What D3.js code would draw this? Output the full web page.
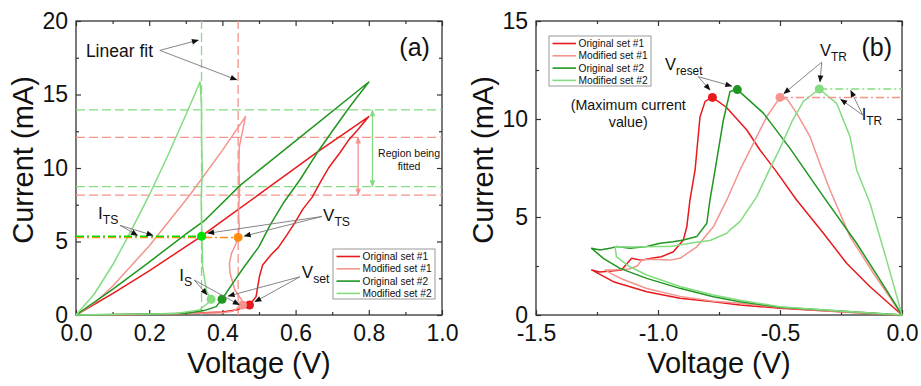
<!DOCTYPE html>
<html>
<head>
<meta charset="utf-8">
<script src="https://cdn.jsdelivr.net/npm/d3@7.9.0/dist/d3.min.js"></script>
<style>
  body { margin: 0; background: #fff; }
  svg { display: block; font-family: "Liberation Sans", Arial, sans-serif; }
</style>
</head>
<body>
<div id="chart"></div>
<script>
// ---- data, panel (a): [voltage V, current mA], forward sweep then return ----
const seriesNames = ['Original set #1', 'Modified set #1', 'Original set #2', 'Modified set #2'];

const aOrig1 = [[0,0],[0.1,0.02],[0.2,0.05],[0.3,0.1],[0.4,0.2],[0.44,0.35],[0.474,0.68],[0.492,1.25],
  [0.501,2.6],[0.51,3.4],[0.533,4.1],[0.553,4.6],[0.575,5.4],[0.596,6.2],[0.62,7.2],[0.645,8.0],[0.667,9.0],
  [0.69,10.0],[0.72,11.0],[0.745,11.9],[0.77,12.6],[0.8,13.5],
  [0.66,11.1],[0.5,8.2],[0.4,6.4],[0.339,5.3],[0.2,3.0],[0.1,1.45],[0,0]];
const aMod1 = [[0,0],[0.1,0.02],[0.2,0.05],[0.3,0.1],[0.4,0.16],[0.428,0.25],[0.455,0.68],[0.453,1.02],
  [0.434,1.7],[0.421,2.84],[0.419,3.5],[0.425,4.2],[0.436,4.8],[0.443,5.3],[0.446,6.0],[0.444,7.0],[0.447,8.5],
  [0.445,10.0],[0.446,11.4],[0.463,13.5],
  [0.4,11.2],[0.311,8.16],[0.2,4.7],[0.1,1.96],[0.05,0.8],[0,0]];
const aOrig2 = [[0,0],[0.1,0.03],[0.2,0.06],[0.3,0.12],[0.35,0.3],[0.383,0.57],[0.399,1.07],[0.428,2.15],
  [0.46,3.3],[0.5,4.65],[0.53,6.1],[0.566,7.6],[0.612,9.2],[0.658,11.0],[0.703,12.6],[0.749,14.2],[0.8,15.85],
  [0.6,11.85],[0.45,8.85],[0.35,6.4],[0.3,5.5],[0.2,3.6],[0.1,1.75],[0,0]];
const aMod2 = [[0,0],[0.1,0.03],[0.2,0.06],[0.273,0.1],[0.337,0.34],[0.36,0.8],[0.369,1.07],[0.357,1.6],
  [0.351,2.5],[0.346,3.3],[0.344,5.3],[0.342,7.8],[0.345,10.0],[0.343,12.0],[0.343,14.2],[0.339,15.87],
  [0.3,13.6],[0.25,10.8],[0.2,8.15],[0.15,5.7],[0.1,3.4],[0.05,1.43],[0,0]];

// fitted region limits (mA) and linear-fit voltages (V)
const fitRegion1 = [8.16, 12.09];
const fitRegion2 = [8.73, 13.95];
const fitVoltage1 = 0.443;
const fitVoltage2 = 0.343;
const itsLevel = [5.28, 5.36];
// marked points, panel (a)
const aSetPoints = [[0.474,0.68],[0.455,0.68],[0.399,1.07],[0.369,1.07]];
const aTsPoints = [[0.443,5.28],[0.343,5.36]];

// ---- data, panel (b): lower branch out to the turning point, upper branch back ----
const bOrig1 = [[0,0],[-0.254,0.17],[-0.5,0.35],[-0.664,0.51],[-0.773,0.68],[-0.91,0.85],[-1.046,1.19],
  [-1.183,1.7],[-1.272,2.3],[-1.24,2.2],[-1.19,2.25],[-1.15,2.3],[-1.108,2.89],[-1.07,2.8],[-1.027,2.89],
  [-0.986,2.97],[-0.937,3.23],[-0.896,3.83],[-0.882,4.5],[-0.869,5.87],[-0.848,7.4],[-0.828,10.1],
  [-0.807,10.9],[-0.777,11.1],[-0.72,10.6],[-0.636,9.44],[-0.582,8.42],[-0.514,7.3],[-0.432,5.87],
  [-0.322,4.17],[-0.227,2.64],[-0.131,1.44],[0,0]];
const bMod1 = [[0,0],[-0.254,0.17],[-0.5,0.38],[-0.664,0.6],[-0.773,0.7],[-0.91,0.95],[-1.046,1.35],
  [-1.15,1.85],[-1.19,2.1],[-1.217,2.3],[-1.18,2.3],[-1.12,2.35],[-1.085,2.5],[-1.067,2.8],[-1.027,2.84],
  [-0.951,2.8],[-0.91,2.89],[-0.841,3.48],[-0.773,4.5],[-0.718,5.87],[-0.664,7.4],[-0.609,8.76],
  [-0.555,10.1],[-0.5,11.1],[-0.47,11.0],[-0.432,10.3],[-0.377,9.1],[-0.336,7.7],[-0.295,6.38],
  [-0.213,4.0],[-0.117,2.13],[0,0]];
const bOrig2 = [[0,0],[-0.254,0.2],[-0.5,0.4],[-0.664,0.68],[-0.773,0.93],[-0.91,1.36],[-1.046,1.87],
  [-1.156,2.38],[-1.224,2.89],[-1.272,3.4],[-1.238,3.32],[-1.197,3.4],[-1.169,3.49],[-1.115,3.4],
  [-1.046,3.49],[-0.992,3.66],[-0.938,3.74],[-0.896,3.83],[-0.841,4.0],[-0.8,4.68],[-0.787,5.87],
  [-0.766,7.4],[-0.732,9.95],[-0.705,11.4],[-0.675,11.5],[-0.568,10.3],[-0.459,8.5],[-0.322,6.04],
  [-0.186,3.66],[-0.09,1.79],[0,0]];
const bMod2 = [[0,0],[-0.254,0.2],[-0.5,0.42],[-0.664,0.75],[-0.773,1.02],[-0.91,1.45],[-1.046,2.04],
  [-1.115,2.46],[-1.17,2.97],[-1.176,3.48],[-1.1,3.47],[-1.0,3.5],[-0.95,3.5],[-0.9,3.6],[-0.85,3.7],
  [-0.787,3.8],[-0.718,4.17],[-0.705,4.34],[-0.664,4.76],[-0.595,6.04],[-0.548,7.3],[-0.5,8.5],
  [-0.45,9.9],[-0.404,10.9],[-0.339,11.53],[-0.268,10.8],[-0.213,9.1],[-0.186,7.4],[-0.131,5.7],
  [-0.063,2.8],[0,0]];
// maximum current points (V_reset / V_TR)
const bPeaks = [[-0.777,11.1],[-0.5,11.1],[-0.675,11.5],[-0.339,11.53]];

// tick values
const aXTicks = [0, 0.2, 0.4, 0.6, 0.8, 1.0];
const aXMinor = [0.1, 0.3, 0.5, 0.7, 0.9];
const aYTicks = [0, 5, 10, 15, 20];
const aYMinor = [2.5, 7.5, 12.5, 17.5];
const bXTicks = [-1.5, -1.0, -0.5, 0.0];
const bXMinor = [-1.25, -0.75, -0.25];
const bYTicks = [0, 5, 10, 15];
const bYMinor = [2.5, 7.5, 12.5];

const colors = ['#e8191c', '#f4948e', '#1f961f', '#84dc80'];
const dotGreen = '#00e000', dotOrange = '#ff8a10';

const svg = d3.select('#chart').append('svg').attr('width', 921).attr('height', 386);
const defs = svg.append('defs');

function addMarker(id, color) {
  defs.append('marker')
    .attr('id', id)
    .attr('viewBox', '0 0 10 10')
    .attr('refX', 9).attr('refY', 5)
    .attr('markerWidth', 8).attr('markerHeight', 7)
    .attr('markerUnits', 'userSpaceOnUse')
    .attr('orient', 'auto-start-reverse')
    .append('path').attr('d', 'M0,1 L10,5 L0,9 z').attr('fill', color);
}
addMarker('arrBlack', '#111');
addMarker('arrRed', colors[1]);
addMarker('arrGreen', colors[3]);

function makePanel(left, xDomain, yDomain, xTicks, xMinor, yTicks, yMinor, fmtX) {
  const x = d3.scaleLinear().domain(xDomain).range([left, left + 366]);
  const y = d3.scaleLinear().domain(yDomain).range([315, 21]);
  const g = svg.append('g');
  const ax = g.append('g').attr('class', 'axes');

  // bottom + left with labels, top + right mirrored; all ticks point inward
  ax.append('g').attr('transform', 'translate(0,315)')
    .call(d3.axisBottom(x).tickValues(xTicks).tickSize(-5).tickPadding(10).tickFormat(fmtX));
  ax.append('g').attr('transform', 'translate(0,315)')
    .call(d3.axisBottom(x).tickValues(xMinor).tickSize(-3).tickFormat(''));
  ax.append('g').attr('transform', 'translate(0,21)')
    .call(d3.axisTop(x).tickValues(xTicks).tickSize(-5).tickFormat(''));
  ax.append('g').attr('transform', 'translate(0,21)')
    .call(d3.axisTop(x).tickValues(xMinor).tickSize(-3).tickFormat(''));
  ax.append('g').attr('transform', `translate(${left},0)`)
    .call(d3.axisLeft(y).tickValues(yTicks).tickSize(-5).tickPadding(8).tickFormat(d => d));
  ax.append('g').attr('transform', `translate(${left},0)`)
    .call(d3.axisLeft(y).tickValues(yMinor).tickSize(-3).tickFormat(''));
  ax.append('g').attr('transform', `translate(${left + 366},0)`)
    .call(d3.axisRight(y).tickValues(yTicks).tickSize(-5).tickFormat(''));
  ax.append('g').attr('transform', `translate(${left + 366},0)`)
    .call(d3.axisRight(y).tickValues(yMinor).tickSize(-3).tickFormat(''));

  ax.selectAll('.domain').remove();
  ax.selectAll('.tick line').attr('stroke', '#333').attr('stroke-width', 1.2);
  ax.selectAll('.tick text').attr('font-size', 23).attr('fill', '#111')
    .attr('font-family', '"Liberation Sans", Arial, sans-serif');

  g.append('rect')
    .attr('x', left).attr('y', 21).attr('width', 366).attr('height', 294)
    .attr('fill', 'none').attr('stroke', '#333').attr('stroke-width', 1.3);

  svg.append('text')
    .attr('transform', `translate(${left - 43},160) rotate(-90)`)
    .attr('text-anchor', 'middle').attr('font-size', 29).attr('fill', '#111')
    .text('Current (mA)');
  svg.append('text')
    .attr('x', left + 183).attr('y', 373)
    .attr('text-anchor', 'middle').attr('font-size', 29).attr('fill', '#111')
    .text('Voltage (V)');
  return { x, y, g };
}

function drawCurves(p, list) {
  const line = d3.line().x(d => p.x(d[0])).y(d => p.y(d[1]));
  list.forEach((pts, i) => {
    p.g.append('path').datum(pts)
      .attr('d', line)
      .attr('fill', 'none')
      .attr('stroke', colors[i])
      .attr('stroke-width', 1.5)
      .attr('stroke-linejoin', 'round');
  });
}

function dot(p, d, color) {
  p.g.append('circle').attr('cx', p.x(d[0])).attr('cy', p.y(d[1])).attr('r', 4.5).attr('fill', color);
}

function arrow(p, from, to) {
  p.g.append('line')
    .attr('x1', p.x(from[0])).attr('y1', p.y(from[1]))
    .attr('x2', p.x(to[0])).attr('y2', p.y(to[1]))
    .attr('stroke', '#777').attr('stroke-width', 0.9)
    .attr('marker-end', 'url(#arrBlack)');
}

function subLabel(p, at, main, sub, fs) {
  const t = p.g.append('text').attr('x', p.x(at[0])).attr('y', p.y(at[1]))
    .attr('font-size', fs).attr('fill', '#111');
  t.append('tspan').text(main);
  t.append('tspan').attr('dy', fs * 0.28).attr('font-size', fs * 0.72).text(sub);
}

function legend(p, left, top) {
  const lg = p.g.append('g').attr('transform', `translate(${left},${top})`);
  lg.append('rect').attr('width', 102).attr('height', 50)
    .attr('fill', '#fff').attr('stroke', '#999').attr('stroke-width', 1);
  seriesNames.forEach((name, i) => {
    const yy = 7.5 + i * 12.3;
    lg.append('line').attr('x1', 3.5).attr('x2', 27).attr('y1', yy).attr('y2', yy)
      .attr('stroke', colors[i]).attr('stroke-width', 1.6);
    lg.append('text').attr('x', 29.5).attr('y', yy + 3.6).attr('font-size', 10.2).attr('fill', '#111')
      .text(name);
  });
}

// ================= panel (a) =================
const pa = makePanel(76, [0, 1], [0, 20], aXTicks, aXMinor, aYTicks, aYMinor, d => d.toFixed(1));

// linear-fit guide lines
const dashed = (x1, y1, x2, y2, color) => pa.g.append('line')
  .attr('x1', pa.x(x1)).attr('y1', pa.y(y1)).attr('x2', pa.x(x2)).attr('y2', pa.y(y2))
  .attr('stroke', color).attr('stroke-width', 1.3).attr('stroke-dasharray', '9,4');
dashed(fitVoltage2, 0, fitVoltage2, 20, colors[3]);
dashed(fitVoltage1, 0, fitVoltage1, 20, colors[1]);
fitRegion2.forEach(v => dashed(0, v, 1, v, colors[3]));
fitRegion1.forEach(v => dashed(0, v, 1, v, colors[1]));

drawCurves(pa, [aOrig1, aMod1, aOrig2, aMod2]);

// I_TS dash-dot levels
pa.g.append('line').attr('x1', pa.x(0)).attr('x2', pa.x(aTsPoints[0][0]))
  .attr('y1', pa.y(itsLevel[0])).attr('y2', pa.y(itsLevel[0]))
  .attr('stroke', dotOrange).attr('stroke-width', 1.5).attr('stroke-dasharray', '8,3,2,3');
pa.g.append('line').attr('x1', pa.x(0)).attr('x2', pa.x(aTsPoints[1][0]))
  .attr('y1', pa.y(itsLevel[1])).attr('y2', pa.y(itsLevel[1]))
  .attr('stroke', dotGreen).attr('stroke-width', 1.5).attr('stroke-dasharray', '8,3,2,3');

aSetPoints.forEach((d, i) => dot(pa, d, colors[i]));
dot(pa, aTsPoints[0], dotOrange);
dot(pa, aTsPoints[1], dotGreen);

// fitted-region double arrows
[[0.771, fitRegion1, 'arrRed', colors[1]], [0.81, fitRegion2, 'arrGreen', colors[3]]].forEach(([v, r, m, c]) => {
  pa.g.append('line')
    .attr('x1', pa.x(v)).attr('x2', pa.x(v)).attr('y1', pa.y(r[1])).attr('y2', pa.y(r[0]))
    .attr('stroke', c).attr('stroke-width', 1.3)
    .attr('marker-start', `url(#${m})`).attr('marker-end', `url(#${m})`);
});
pa.g.append('text').attr('x', pa.x(0.91)).attr('y', pa.y(10.72)).attr('text-anchor', 'middle')
  .attr('font-size', 10.5).attr('fill', '#111').text('Region being');
pa.g.append('text').attr('x', pa.x(0.91)).attr('y', pa.y(9.86)).attr('text-anchor', 'middle')
  .attr('font-size', 10.5).attr('fill', '#111').text('fitted');

// labels and arrows
pa.g.append('text').attr('x', pa.x(0.027)).attr('y', pa.y(17.55)).attr('font-size', 17.5).attr('fill', '#111')
  .text('Linear fit');
arrow(pa, [0.229, 18.0], [0.334, 18.7]);
arrow(pa, [0.229, 18.0], [0.439, 16.0]);
pa.g.append('text').attr('x', pa.x(0.967)).attr('y', pa.y(17.6)).attr('text-anchor', 'end')
  .attr('font-size', 25).attr('fill', '#111').text('(a)');

subLabel(pa, [0.06, 6.5], 'I', 'TS', 17);
arrow(pa, [0.12, 6.1], [0.168, 5.42]);
arrow(pa, [0.12, 6.1], [0.21, 5.42]);

subLabel(pa, [0.675, 6.38], 'V', 'TS', 17);
arrow(pa, [0.672, 6.7], [0.36, 5.56]);
arrow(pa, [0.672, 6.7], [0.46, 5.37]);

subLabel(pa, [0.282, 2.3], 'I', 'S', 17);
arrow(pa, [0.323, 2.38], [0.358, 1.38]);
arrow(pa, [0.323, 2.38], [0.446, 0.7]);

subLabel(pa, [0.617, 2.52], 'V', 'set', 17);
arrow(pa, [0.612, 2.6], [0.416, 1.29]);
arrow(pa, [0.612, 2.6], [0.489, 0.9]);

legend(pa, 333, 249);

// ================= panel (b) =================
const pb = makePanel(536, [-1.5, 0], [0, 15], bXTicks, bXMinor, bYTicks, bYMinor, d => d.toFixed(1));

drawCurves(pb, [bOrig1, bMod1, bOrig2, bMod2]);

// I_TR dash-dot levels
[[bPeaks[1], colors[1]], [bPeaks[3], colors[3]]].forEach(([d, c]) => {
  pb.g.append('line').attr('x1', pb.x(d[0])).attr('x2', pb.x(0))
    .attr('y1', pb.y(d[1])).attr('y2', pb.y(d[1]))
    .attr('stroke', c).attr('stroke-width', 1.5).attr('stroke-dasharray', '8,3,2,3');
});
bPeaks.forEach((d, i) => dot(pb, d, colors[i]));

subLabel(pb, [-0.971, 12.5], 'V', 'reset', 16.5);
arrow(pb, [-0.835, 12.16], [-0.787, 11.48]);
arrow(pb, [-0.835, 12.16], [-0.698, 11.68]);

pb.g.append('text').attr('x', pb.x(-1.122)).attr('y', pb.y(10.46)).attr('text-anchor', 'middle')
  .attr('font-size', 14.3).attr('fill', '#111').text('(Maximum current');
pb.g.append('text').attr('x', pb.x(-1.122)).attr('y', pb.y(9.6)).attr('text-anchor', 'middle')
  .attr('font-size', 14.3).attr('fill', '#111').text('value)');

subLabel(pb, [-0.336, 13.2], 'V', 'TR', 16.5);
arrow(pb, [-0.329, 12.9], [-0.484, 11.3]);
arrow(pb, [-0.329, 12.9], [-0.336, 11.9]);

subLabel(pb, [-0.165, 9.95], 'I', 'TR', 16.5);
arrow(pb, [-0.161, 10.2], [-0.251, 11.0]);
arrow(pb, [-0.161, 10.2], [-0.21, 11.45]);

pb.g.append('text').attr('x', pb.x(-0.041)).attr('y', pb.y(13.2)).attr('text-anchor', 'end')
  .attr('font-size', 25).attr('fill', '#111').text('(b)');

legend(pb, 549, 36);
</script>
</body>
</html>
